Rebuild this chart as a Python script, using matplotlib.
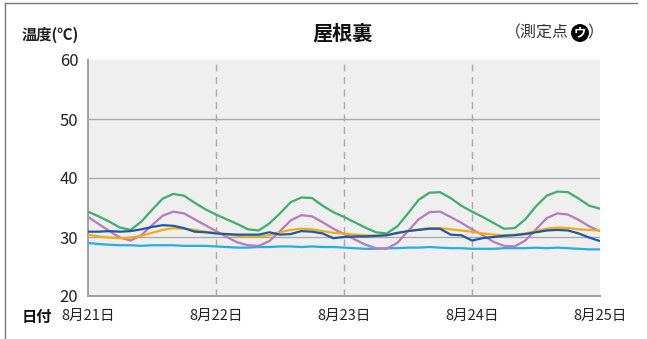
import numpy as np
import matplotlib.pyplot as plt
from matplotlib.lines import Line2D

plt.rcParams['font.family'] = ['Noto Sans CJK JP', 'DejaVu Sans']

W, H = 647, 339

# ── data: 2-hourly readings from 8/21 00:00 to 8/25 00:00 ────────────────
hours = np.arange(0, 97, 2)
days = ["8月21日", "8月22日", "8月23日", "8月24日", "8月25日"]

green = [34.3, 33.5, 32.6, 31.6, 31.2, 32.6, 34.6, 36.5, 37.3, 37.0, 35.8, 34.7,
         33.8, 33.0, 32.2, 31.3, 31.1, 32.3, 34.0, 35.9, 36.7, 36.6, 35.3, 34.2,
         33.4, 32.5, 31.6, 30.8, 30.6, 31.8, 34.0, 36.3, 37.5, 37.6, 36.6, 35.3,
         34.3, 33.4, 32.4, 31.4, 31.5, 33.0, 35.2, 37.0, 37.7, 37.6, 36.5, 35.3, 34.8]
purple = [33.4, 32.2, 31.0, 29.9, 29.4, 30.3, 32.0, 33.6, 34.3, 34.0, 33.0, 32.0,
          31.0, 30.0, 29.1, 28.6, 28.5, 29.3, 31.0, 32.8, 33.7, 33.5, 32.5, 31.4,
          30.5, 29.6, 28.7, 28.1, 28.0, 29.0, 31.0, 33.0, 34.2, 34.3, 33.4, 32.4,
          31.3, 30.3, 29.2, 28.5, 28.4, 29.4, 31.3, 33.2, 34.0, 33.8, 32.9, 31.8, 31.0]
orange = [30.4, 30.1, 29.9, 29.8, 29.9, 30.2, 30.7, 31.2, 31.5, 31.4, 31.2, 30.9,
          30.7, 30.4, 30.2, 30.1, 30.1, 30.3, 30.8, 31.2, 31.4, 31.3, 31.0, 30.7,
          30.6, 30.4, 30.3, 30.2, 30.3, 30.6, 31.0, 31.3, 31.5, 31.5, 31.3, 31.1,
          30.9, 30.6, 30.4, 30.3, 30.4, 30.6, 31.0, 31.4, 31.6, 31.5, 31.3, 31.2, 31.1]
navy = [30.9, 30.9, 31.0, 30.9, 31.0, 31.3, 31.7, 32.0, 31.9, 31.5, 30.9, 30.8,
        30.6, 30.5, 30.4, 30.4, 30.4, 30.8, 30.4, 30.5, 31.0, 30.9, 30.6, 29.8,
        30.0, 30.1, 30.1, 30.2, 30.3, 30.7, 31.0, 31.2, 31.4, 31.4, 30.4, 30.3,
        29.4, 29.8, 30.0, 30.2, 30.3, 30.5, 30.8, 31.1, 31.2, 31.1, 30.6, 29.9, 29.3]
skyblue = [29.0, 28.8, 28.7, 28.6, 28.6, 28.5, 28.6, 28.6, 28.6, 28.5, 28.5, 28.5,
           28.4, 28.3, 28.2, 28.2, 28.3, 28.3, 28.4, 28.4, 28.3, 28.4, 28.3, 28.3,
           28.2, 28.1, 28.0, 28.0, 28.1, 28.1, 28.2, 28.2, 28.3, 28.2, 28.1, 28.1,
           28.0, 28.0, 28.0, 28.1, 28.1, 28.1, 28.2, 28.1, 28.2, 28.1, 28.0, 27.9, 27.9]

yticks = [20, 30, 40, 50, 60]


def px(x, y):
    """figure fraction from pixel position (origin top-left)."""
    return x / W, 1 - y / H


fig = plt.figure(figsize=(W / 100, H / 100), dpi=100)
fig.patch.set_facecolor("white")
ax = fig.add_axes([88 / W, 1 - 296 / H, 512 / W, 236 / H])
ax.set_facecolor("#efefef")

ax.set_xlim(0, 96)
ax.set_ylim(20, 60)

# grid
for v in [30, 40, 50]:
    ax.axhline(v, color="#aaaaaa", lw=1.0, zorder=1)
for d in [24, 48, 72]:
    ax.axvline(d, color="#aaaaaa", lw=1.0, ls=(0, (5, 4)), zorder=1)

series = [
    (skyblue, "#22aee6"),
    (purple, "#b879bd"),
    (green, "#3daf68"),
    (orange, "#f5ac0a"),
    (navy, "#1a5aa8"),
]
for vals, col in series:
    ax.plot(hours, vals, color=col, lw=1.6, zorder=3, solid_capstyle="butt")

for s in ["top", "right"]:
    ax.spines[s].set_visible(False)
for s in ["left", "bottom"]:
    ax.spines[s].set_color("#a0a0a0")
    ax.spines[s].set_linewidth(1.4)

ax.set_yticks(yticks)
ax.set_yticklabels([str(v) for v in yticks], fontsize=12, color="#222222")
ax.set_xticks([0, 24, 48, 72, 96])
ax.set_xticklabels(days, fontsize=10.5, color="#222222")
ax.tick_params(axis="y", length=0, pad=7)
ax.tick_params(axis="x", length=0, pad=9)
ax.get_xticklabels()[0].set_x(-1)

# texts
fig.text(*px(22, 35), "温度(℃)", fontsize=11, fontweight="bold",
         ha="left", va="center", color="#222222")
fig.text(*px(343, 33), "屋根裏", fontsize=14.5, fontweight="bold",
         ha="center", va="center", color="#111111")
fig.text(*px(505, 33), "（測定点", fontsize=11.5, ha="left", va="center",
         color="#333333")
fig.text(*px(580, 33), "ウ", fontsize=9, fontweight="bold", ha="center",
         va="center", color="white",
         bbox=dict(boxstyle="circle,pad=0.14", fc="black", ec="black"))
fig.text(*px(587, 33), "）", fontsize=11.5, ha="left", va="center",
         color="#333333")
fig.text(*px(22, 317), "日付", fontsize=11, fontweight="bold",
         ha="left", va="center", color="#111111")

# outer frame (left and top edges)
fig.add_artist(Line2D([5 / W, 5 / W], [0, 1 - 3 / H], transform=fig.transFigure,
                      color="#777777", lw=1.0))
fig.add_artist(Line2D([5 / W, 637 / W], [1 - 3 / H, 1 - 3 / H],
                      transform=fig.transFigure, color="#777777", lw=1.0))

fig.savefig("out.png", dpi=100, facecolor="white")
